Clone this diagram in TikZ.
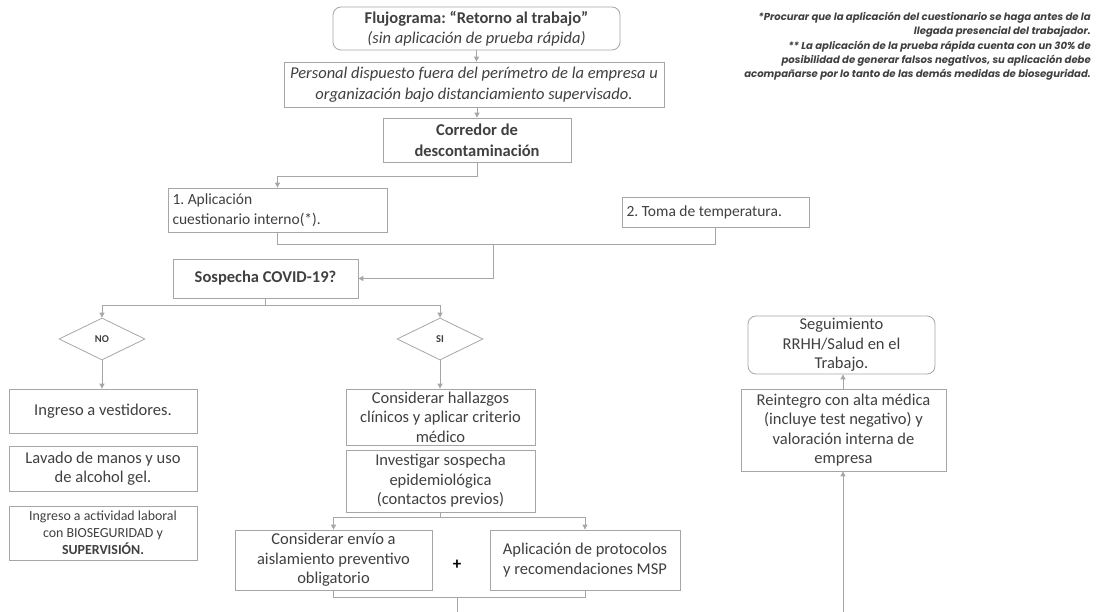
\documentclass[tikz,border=0pt]{standalone}
\usepackage{fontspec}
\setmainfont{Carlito}
\newfontfamily\notefont{Poppins}
\usetikzlibrary{arrows.meta,shapes.geometric}
\definecolor{bordergray}{HTML}{A6A6A6}
\definecolor{linegray}{HTML}{A6A6A6}
\definecolor{txt}{HTML}{404040}
\frenchspacing
\tikzset{
  box/.style={draw=bordergray, line width=0.8pt, fill=white, inner sep=0pt, align=center, text=txt, font=\fontsize{16.5}{19.5}\selectfont\frenchspacing},
  rbox/.style={box, rounded corners=8pt},
  dia/.style={diamond, draw=bordergray, line width=0.8pt, inner sep=0pt, minimum width=86pt, minimum height=42pt, aspect=2, text=txt, font=\fontsize{10.5}{12}\selectfont\bfseries},
  conn/.style={draw=linegray, line width=0.9pt},
  arr/.style={conn, -{Triangle[length=5pt,width=5pt]}},
}
\begin{document}
\begin{tikzpicture}[x=1pt,y=-1pt]
\useasboundingbox (0,0) rectangle (1096,612);
% nodes
\node[rbox, minimum width=287pt, minimum height=43pt, font=\fontsize{16.5}{20}\selectfont] (title) at (476.5,28.5) {{\bfseries Flujograma: “Retorno al trabajo”}\\{\itshape (sin aplicación de prueba rápida)}};
\node[box, minimum width=380pt, minimum height=45pt, font=\fontsize{16.5}{21}\selectfont\itshape] (pers) at (474,84.5) {Personal dispuesto fuera del perímetro de la empresa u\\organización bajo distanciamiento supervisado.};
\node[box, minimum width=188pt, minimum height=44pt, font=\fontsize{16.5}{21}\selectfont\bfseries] (corr) at (477,140) {Corredor de\\descontaminación};
\node[box, minimum width=219pt, minimum height=44pt, align=flush left, text width=210pt, font=\fontsize{15.5}{20}\selectfont] (cuest) at (277.5,210) {1. Aplicación\\cuestionario interno(*).};
\node[box, minimum width=187pt, minimum height=30pt, align=flush left, text width=178pt, font=\fontsize{15.5}{20}\selectfont] (temp) at (715.5,212) {2. Toma de temperatura.};
\node[box, minimum width=185pt, minimum height=39pt, font=\fontsize{16.5}{19}\selectfont\bfseries] (sosp) at (265.5,278.5) {Sospecha COVID-19?};
\node[dia] (no) at (102,339) {NO};
\node[dia] (si) at (440,339) {SI};
\node[box, minimum width=188pt, minimum height=44pt] (vest) at (103,411) {Ingreso a vestidores.};
\node[box, minimum width=188pt, minimum height=45pt] (lav) at (103,468.5) {Lavado de manos y uso\\de alcohol gel.};
\node[box, minimum width=188pt, minimum height=54pt, font=\fontsize{13.9}{17}\selectfont] (act) at (103,533) {Ingreso a actividad laboral\\con BIOSEGURIDAD y\\{\bfseries SUPERVISIÓN.}};
\node[box, minimum width=189pt, minimum height=56pt] (hall) at (440.5,417) {Considerar hallazgos\\clínicos y aplicar criterio\\médico};
\node[box, minimum width=189pt, minimum height=62pt] (inv) at (440.5,481) {Investigar sospecha\\epidemiológica\\(contactos previos)};
\node[box, minimum width=197pt, minimum height=60pt] (env) at (333.5,560) {Considerar envío a\\aislamiento preventivo\\obligatorio};
\node[font=\fontsize{17}{19}\selectfont\bfseries, text=black] (plus) at (457,565) {+};
\node[box, minimum width=190pt, minimum height=60pt] (prot) at (585,560) {Aplicación de protocolos\\y recomendaciones MSP};
\node[box, minimum width=205pt, minimum height=82pt] (rein) at (843.5,430) {Reintegro con alta médica\\(incluye test negativo) y\\valoración interna de\\empresa};
\node[rbox, minimum width=187pt, minimum height=58pt] (seg) at (841.5,345) {Seguimiento\\RRHH/Salud en el\\Trabajo.};
\node[anchor=north east, align=right, inner sep=0pt, text=txt, font=\notefont\fontsize{10.1}{14.3}\selectfont\bfseries\itshape] (note) at (1091,12) {*Procurar que la aplicación del cuestionario se haga antes de la\\llegada presencial del trabajador.\\** La aplicación de la prueba rápida cuenta con un 30\% de\\posibilidad de generar falsos negativos, su aplicación debe\\acompañarse por lo tanto de las demás medidas de bioseguridad.};
% free-end coordinates
\coordinate (botmid) at (457,612);
\coordinate (botright) at (843,612);
% connectors
\draw[arr] (title.south) -- (pers.north -| title.south);
\draw[arr] (pers.south -| corr.north) -- (corr.north);
\draw[arr] (corr.south) -- ++(0,14) -| (cuest.north);
\draw[conn] (cuest.south) -- ++(0,12) -| (715,227);
\draw[arr] (493,244) -- (493,278.5) -- (sosp.east);
\draw[conn] (sosp.south) -- ++(0,7);
\draw[arr] (263,305) -| (no.north);
\draw[arr] (263,305) -| (si.north);
\draw[arr] (no.south) -- (vest.north -| no.south);
\draw[arr] (si.south) -- (hall.north -| si.south);
\draw[conn] (inv.south -| si.south) -- ++(0,5);
\draw[arr] (440,517) -| (env.north);
\draw[arr] (440,517) -| (prot.north);
\draw[conn] (env.south) -- ++(0,7) -| (prot.south);
\draw[conn] (457,597) -- (botmid);
\draw[arr] (botright) -- (rein.south -| botright);
\draw[arr] (rein.north -| botright) -- (seg.south -| botright);
\end{tikzpicture}
\end{document}
